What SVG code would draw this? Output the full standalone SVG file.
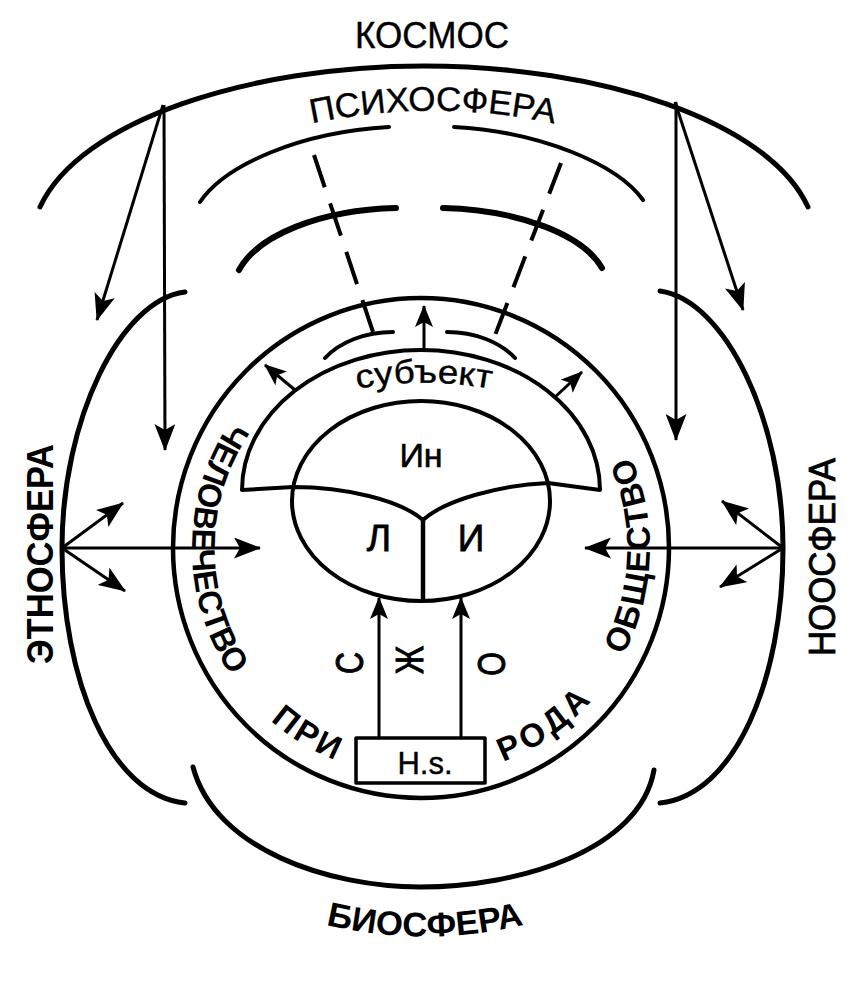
<svg xmlns="http://www.w3.org/2000/svg" width="860" height="1003" viewBox="0 0 860 1003">
<style>
.ln{fill:none;stroke:#000;stroke-linecap:round;stroke-linejoin:round}
.t{font-family:'Liberation Sans',Arial,sans-serif;fill:#000}
.b{font-weight:bold}
.ar{fill:none;stroke:#000;stroke-width:3}
.ds{fill:none;stroke:#000;stroke-width:4}
</style>
<defs>
<marker id="ah" viewBox="0 0 27 21" refX="26" refY="10.5" markerWidth="27" markerHeight="21" markerUnits="userSpaceOnUse" orient="auto"><path d="M0,0 L27,10.5 L0,21 L6,10.5 Z" fill="#000"/></marker>
<marker id="as" viewBox="0 0 22 18" refX="21" refY="9" markerWidth="22" markerHeight="18" markerUnits="userSpaceOnUse" orient="auto"><path d="M0,0 L22,9 L0,18 L5,9 Z" fill="#000"/></marker>
<path id="pInner" d="M259.1,386.1 A229,229 0 0 0 421,777 A229,229 0 0 0 582.9,386.1"/>
<path id="pPsy" d="M305,125 A579,579 0 0 1 561,125"/>
<path id="pSub" d="M352,390 A360,360 0 0 1 496,390"/>
<path id="pBio" d="M315,922 A423,423 0 0 0 535,922"/>
</defs>
<rect width="860" height="1003" fill="#fff"/>

<g id="kosmos">
<path class="ln" stroke-width="5" d="M40,207 C80,120 250,66 424,66 C598,66 768,120 808,207"/>
<text class="t" x="432" y="48" font-size="36" text-anchor="middle" stroke="#000" stroke-width="0.4" textLength="154" lengthAdjust="spacingAndGlyphs">КОСМОС</text>
</g>

<g id="psychosphere">
<path class="ln" stroke-width="4" d="M200,202 C225,165 300,132 389,127"/>
<path class="ln" stroke-width="4" d="M454,127 C543,132 618,165 643,200"/>
<path class="ln" stroke-width="6" d="M239,270 C258,235 320,210 396,208"/>
<path class="ln" stroke-width="6" d="M443,208 C520,210 583,235 602,268"/>
<path class="ln" stroke-width="4" d="M325,358 C340,342 365,332 393,332"/>
<path class="ln" stroke-width="4" d="M447,332 C475,332 500,342 515,358"/>
<text class="t" font-size="34" stroke="#000" stroke-width="0.4"><textPath href="#pPsy" startOffset="50%" text-anchor="middle" textLength="244" lengthAdjust="spacingAndGlyphs">ПСИХОСФЕРА</textPath></text>
</g>

<g id="ethnosphere">
<path class="ln" stroke-width="5" d="M185,292 C120,300 62,420 62,548 C62,680 110,795 185,803"/>
<text class="t b" font-size="36" text-anchor="middle" transform="translate(53,554) rotate(-90)" textLength="220" lengthAdjust="spacingAndGlyphs">ЭТНОСФЕРА</text>
</g>

<g id="noosphere">
<path class="ln" stroke-width="5" d="M660,291 C725,300 783,420 783,548 C783,680 735,795 660,803"/>
<text class="t" font-size="36" text-anchor="middle" stroke="#000" stroke-width="0.8" transform="translate(835,557) rotate(-90)" textLength="198" lengthAdjust="spacingAndGlyphs">НООСФЕРА</text>
</g>

<g id="biosphere">
<path class="ln" stroke-width="5" d="M193,767 C215,850 330,887 420,887 C520,887 640,850 654,770"/>
<text class="t b" font-size="34"><textPath href="#pBio" startOffset="50%" text-anchor="middle" textLength="200" lengthAdjust="spacingAndGlyphs">БИОСФЕРА</textPath></text>
</g>

<g id="society-circle">
<ellipse class="ln" stroke-width="4.5" cx="421" cy="548" rx="248" ry="250"/>
<text class="t b" font-size="33"><textPath href="#pInner" startOffset="180" text-anchor="middle" textLength="270" lengthAdjust="spacingAndGlyphs">ЧЕЛОВЕЧЕСТВО</textPath></text>
<text class="t b" font-size="33"><textPath href="#pInner" startOffset="413" text-anchor="middle" textLength="76" lengthAdjust="spacing">ПРИ</textPath></text>
<text class="t b" font-size="33"><textPath href="#pInner" startOffset="677" text-anchor="middle" textLength="108" lengthAdjust="spacing">РОДА</textPath></text>
<text class="t b" font-size="33"><textPath href="#pInner" startOffset="890" text-anchor="middle" textLength="206" lengthAdjust="spacing">ОБЩЕСТВО</textPath></text>
</g>

<g id="subject">
<path class="ln" stroke-width="4" d="M242,490 A179,140 0 0 1 600,490 L548,483 C500,485 445,500 423,520 C400,500 345,487 293,487 Z"/>
<text class="t" font-size="33" stroke="#000" stroke-width="0.4"><textPath href="#pSub" startOffset="50%" text-anchor="middle" textLength="134" lengthAdjust="spacingAndGlyphs">субъект</textPath></text>
</g>

<g id="core">
<ellipse class="ln" stroke-width="4" cx="421" cy="501" rx="129" ry="100"/>
<path class="ln" stroke-width="4.5" d="M423,520 L423,600"/>
<text class="t" x="421" y="467" font-size="34" text-anchor="middle" stroke="#000" stroke-width="0.6">Ин</text>
<text class="t" x="379" y="551" font-size="37" text-anchor="middle" stroke="#000" stroke-width="0.8">Л</text>
<text class="t" x="471" y="551" font-size="37" text-anchor="middle" stroke="#000" stroke-width="0.8">И</text>
</g>

<g id="hs">
<rect class="ln" stroke-width="3.5" x="356" y="738" width="129" height="45"/>
<text class="t" x="425" y="774" font-size="31" text-anchor="middle" stroke="#000" stroke-width="0.4">H.s.</text>
</g>

<g id="sjo-labels">
<text class="t" font-size="38" text-anchor="middle" stroke="#000" stroke-width="1" transform="translate(363,663) rotate(-90) scale(0.8,1)">С</text>
<text class="t" font-size="38" text-anchor="middle" stroke="#000" stroke-width="1" transform="translate(423,660) rotate(-90) scale(0.8,1)">Ж</text>
<text class="t" font-size="38" text-anchor="middle" stroke="#000" stroke-width="1" transform="translate(505,664) rotate(-90) scale(0.8,1)">О</text>
</g>

<g id="connectors">
<line class="ar" x1="164" y1="105" x2="165" y2="450" marker-end="url(#ah)"/>
<line class="ar" x1="676" y1="102" x2="676" y2="440" marker-end="url(#ah)"/>
<line class="ar" x1="163" y1="105" x2="97" y2="320" marker-end="url(#ah)"/>
<line class="ar" x1="675" y1="102" x2="743" y2="310" marker-end="url(#ah)"/>
<line class="ar" x1="62" y1="548" x2="260" y2="548" marker-end="url(#ah)"/>
<line class="ar" x1="62" y1="548" x2="123" y2="503" marker-end="url(#ah)"/>
<line class="ar" x1="62" y1="548" x2="125" y2="591" marker-end="url(#ah)"/>
<line class="ar" x1="783" y1="548" x2="585" y2="548" marker-end="url(#ah)"/>
<line class="ar" x1="783" y1="548" x2="722" y2="501" marker-end="url(#ah)"/>
<line class="ar" x1="783" y1="548" x2="720" y2="587" marker-end="url(#ah)"/>
<line class="ar" x1="424" y1="350" x2="424" y2="306" marker-end="url(#as)"/>
<line class="ar" x1="295" y1="390" x2="265" y2="365" marker-end="url(#as)"/>
<line class="ar" x1="555" y1="397" x2="582" y2="372" marker-end="url(#as)"/>
<line class="ar" x1="379" y1="738" x2="379" y2="598" marker-end="url(#as)"/>
<line class="ar" x1="461" y1="738" x2="461" y2="598" marker-end="url(#as)"/>
<line class="ds" x1="314" y1="155" x2="373" y2="332" stroke-dasharray="34 17"/>
<line class="ds" x1="561" y1="163" x2="494" y2="338" stroke-dasharray="33 17"/>
</g>
</svg>
